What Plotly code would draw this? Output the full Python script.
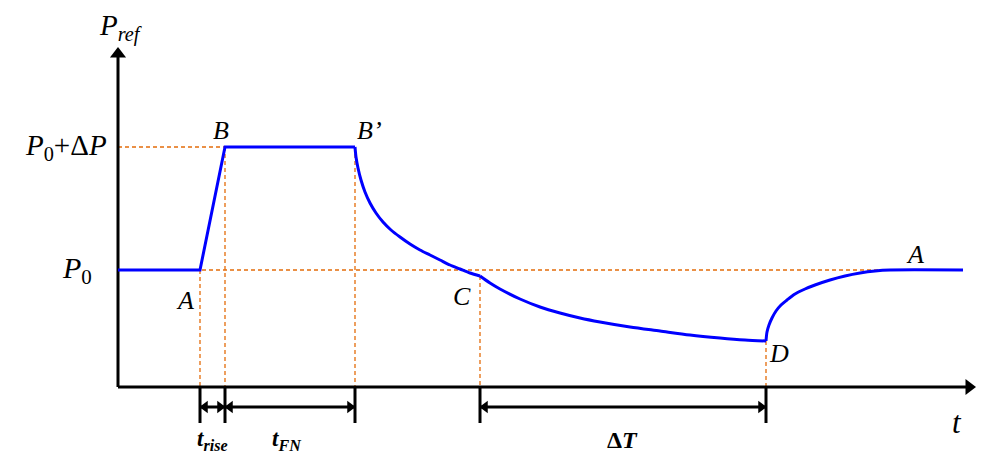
import plotly.graph_objects as go

# ---- data (time units along t, power units along P_ref) ----
rise_t = [0, 82, 107, 237]
rise_p = [117, 117, 240, 240]
decay1_t = [237, 238, 240, 243, 247, 252, 258, 265, 273, 282, 292, 302, 312, 322, 332, 342, 352, 362]
decay1_p = [240, 230, 219, 207, 195, 184, 174, 165, 157, 150, 143, 137, 132, 127, 122, 118, 114, 111]
decay2_t = [362, 372, 382, 402, 422, 442, 462, 482, 512, 542, 572, 602, 627, 648]
decay2_p = [111, 104, 98, 88, 80, 74, 69, 65, 60, 56, 52, 49, 47, 46]
recover_t = [648, 649, 651, 654, 658, 663, 669, 677, 687, 697, 712, 727, 742, 757, 772, 845]
recover_p = [46, 55, 62, 69, 76, 82, 87, 93, 98, 102, 107, 111, 114, 116, 117, 117]

t_A, t_B, t_Bp, t_C, t_D = 82, 107, 237, 362, 648
P0, P1, P_C, P_D = 117, 240, 111, 46
t_axis_end, p_axis_end = 857, 339
p_dim, p_tick = -20, -36
p0_dash_end = 762

font = "Liberation Serif"
orange = "#E46C0A"
blue = "#0000FF"

fig = go.Figure()

# dashed guide lines
gx = [0, p0_dash_end, None, 0, t_B, None,
      t_A, t_A, None, t_B, t_B, None, t_Bp, t_Bp, None, t_C, t_C, None, t_D, t_D]
gy = [P0, P0, None, P1, P1, None,
      P0, 0, None, P1, 0, None, P1, 0, None, P_C, 0, None, P_D, 0]
fig.add_trace(go.Scatter(x=gx, y=gy, mode="lines",
                         line=dict(color=orange, width=1.3, dash="4px,3px"), hoverinfo="skip"))

# axes lines
fig.add_trace(go.Scatter(x=[0, t_axis_end - 8, None, 0, 0], y=[0, 0, None, 0, p_axis_end - 8], mode="lines",
                         line=dict(color="black", width=3), hoverinfo="skip"))
# axis arrow heads
fig.add_trace(go.Scatter(x=[t_axis_end - 6], y=[0], mode="markers",
                         marker=dict(symbol="triangle-right", size=14, color="black"), hoverinfo="skip"))
fig.add_trace(go.Scatter(x=[0], y=[p_axis_end - 6], mode="markers",
                         marker=dict(symbol="triangle-up", size=14, color="black"), hoverinfo="skip"))

# tick marks below the axis
tx, ty = [], []
for tv in [t_A, t_B, t_Bp, t_C, t_D]:
    tx += [tv, tv, None]
    ty += [0, p_tick, None]
fig.add_trace(go.Scatter(x=tx, y=ty, mode="lines", line=dict(color="black", width=3), hoverinfo="skip"))

# dimension arrows
dx, dy, lx, rx = [], [], [], []
for a, b in [(t_A, t_B), (t_B, t_Bp), (t_C, t_D)]:
    dx += [a, b, None]
    dy += [p_dim, p_dim, None]
    lx.append(a + 5)
    rx.append(b - 5)
fig.add_trace(go.Scatter(x=dx, y=dy, mode="lines", line=dict(color="black", width=3), hoverinfo="skip"))
fig.add_trace(go.Scatter(x=lx, y=[p_dim] * len(lx), mode="markers",
                         marker=dict(symbol="triangle-left", size=11, color="black"), hoverinfo="skip"))
fig.add_trace(go.Scatter(x=rx, y=[p_dim] * len(rx), mode="markers",
                         marker=dict(symbol="triangle-right", size=11, color="black"), hoverinfo="skip"))

# main curve
fig.add_trace(go.Scatter(x=rise_t, y=rise_p, mode="lines", line=dict(color=blue, width=3), hoverinfo="skip"))
for ct, cp in [(decay1_t, decay1_p), (decay2_t, decay2_p), (recover_t, recover_p)]:
    fig.add_trace(go.Scatter(x=ct, y=cp, mode="lines",
                             line=dict(color=blue, width=3, shape="spline", smoothing=0.8), hoverinfo="skip"))

ann = []

def label(x, y, text, size=26):
    ann.append(dict(x=x, y=y, xref="x", yref="y", text=text, showarrow=False,
                    font=dict(family=font, size=size, color="black")))

label(2, 360, "<i>P<sub>ref</sub></i>", 29)
label(-52, 240, "<i>P</i><sub>0</sub>+Δ<i>P</i>", 29)
label(-41, 117, "<i>P</i><sub>0</sub>", 30)
label(103, 257, "<i>B</i>")
label(251, 257, "<i>B’</i>")
label(67, 87, "<i>A</i>")
label(344, 91, "<i>C</i>")
label(661, 34, "<i>D</i>")
label(797, 133, "<i>A</i>")
label(839, -35, "<i>t</i>", 31)
label(94, -53, "<b><i>t<sub>rise</sub></i></b>", 23)
label(169, -53, "<b><i>t<sub>FN</sub></i></b>", 23)
label(504, -53, "<b>Δ<i>T</i></b>", 24)

fig.update_layout(
    width=990, height=463, margin=dict(l=0, r=0, t=0, b=0),
    paper_bgcolor="white", plot_bgcolor="white", showlegend=False,
    xaxis=dict(range=[-110, 880], visible=False, fixedrange=True),
    yaxis=dict(range=[-84, 379], visible=False, fixedrange=True),
    annotations=ann,
)

fig.write_html("out.html")
